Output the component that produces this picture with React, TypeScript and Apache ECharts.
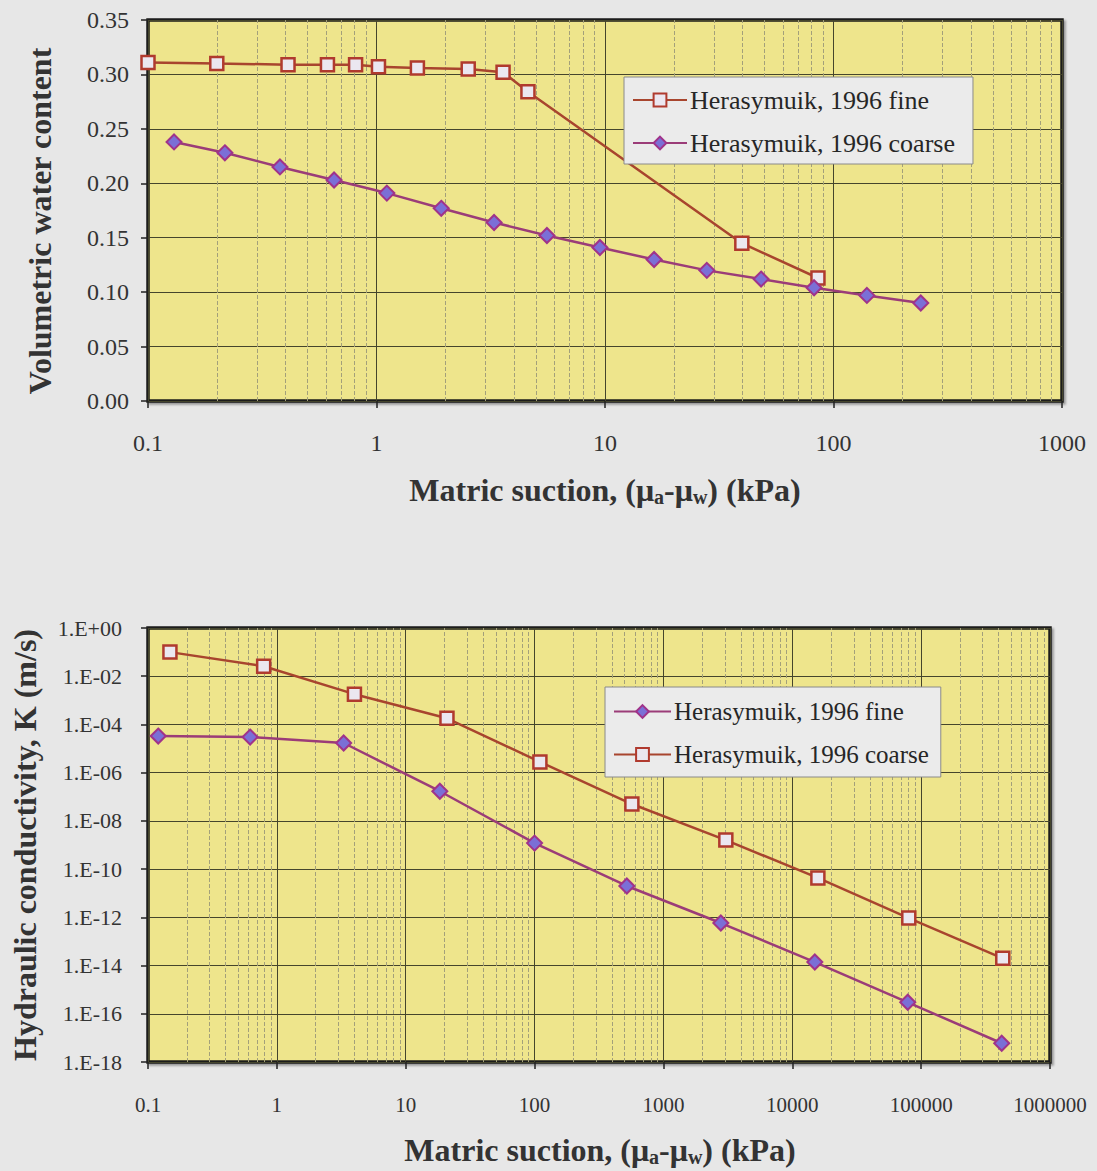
import React, { useEffect, useRef } from "react";
import * as echarts from "echarts";

// ---- Top chart: volumetric water content ----
const topFineSuction = [0.1, 0.2, 0.41, 0.61, 0.81, 1.02, 1.51, 2.52, 3.58, 4.6, 39.7, 85.5];
const topFineTheta = [0.311, 0.310, 0.309, 0.309, 0.309, 0.307, 0.306, 0.305, 0.302, 0.284, 0.145, 0.113];
const topCoarseSuction = [0.13, 0.217, 0.378, 0.652, 1.11, 1.92, 3.27, 5.57, 9.5, 16.4, 27.9, 48.2, 82.2, 140, 241];
const topCoarseTheta = [0.238, 0.228, 0.215, 0.203, 0.191, 0.177, 0.164, 0.152, 0.141, 0.130, 0.120, 0.112, 0.104, 0.097, 0.090];

// ---- Bottom chart: hydraulic conductivity ----
const botFineSuction = [0.12, 0.62, 3.3, 18.4, 100, 520, 2790, 14960, 78700, 422000];
const botFineK = [3.3e-5, 3.0e-5, 1.7e-5, 1.7e-7, 1.2e-9, 2e-11, 5.8e-13, 1.4e-14, 3e-16, 6e-18];
const botCoarseSuction = [0.148, 0.79, 4.0, 20.9, 110, 569, 3050, 15800, 80200, 430000];
const botCoarseK = [0.1, 0.026, 1.8e-3, 1.8e-4, 2.8e-6, 5e-8, 1.6e-9, 4.3e-11, 9.3e-13, 2e-14];

const legendTop = ["Herasymuik, 1996 fine", "Herasymuik, 1996 coarse"];
const legendBottom = ["Herasymuik, 1996 fine", "Herasymuik, 1996 coarse"];

const SERIF = "Liberation Serif";
const BG = "#e7e7e7";
const PLOT = "#eee58c";
const MAJOR = "#45452c";
const MINOR = "#a3a07a";
const FINE_LINE = "#a8452e";
const COARSE_LINE = "#9b3c78";

const zip = (xs: number[], ys: number[]) => xs.map((x, i) => [x, ys[i]]);

const decadeLabel = (v: number) => {
  const e = Math.round(Math.log10(v));
  return e < 0 ? "0." + "0".repeat(-e - 1) + "1" : "1" + "0".repeat(e);
};
const sciLabel = (v: number) => {
  const e = Math.round(Math.log10(v));
  return "1.E" + (e < 0 ? "-" : "+") + String(Math.abs(e)).padStart(2, "0");
};

const minorLines = (fromExp: number, toExp: number) => {
  const out: { xAxis: number }[] = [];
  for (let e = fromExp; e < toExp; e++) {
    for (let m = 2; m <= 9; m++) out.push({ xAxis: m * Math.pow(10, e) });
  }
  return out;
};

const fineStyle = {
  symbol: "rect",
  symbolSize: 13,
  lineStyle: { color: FINE_LINE, width: 2.5 },
  itemStyle: { color: "#ebe7f0", borderColor: "#b03a2e", borderWidth: 2.5 },
};
const coarseStyle = {
  symbol: "diamond",
  symbolSize: 15,
  lineStyle: { color: COARSE_LINE, width: 2.5 },
  itemStyle: { color: "#7b6fd6", borderColor: "#a0338a", borderWidth: 2 },
};

const xTitle = (x: number, y: number, fs: number) => ({
  type: "text",
  x,
  y,
  style: {
    text: "{t|Matric suction, (μ}{s|a}{t|-μ}{s|w}{t|) (kPa)}",
    textAlign: "center",
    textVerticalAlign: "middle",
    rich: {
      t: { fontFamily: SERIF, fontWeight: "bold", fontSize: fs, fill: "#333" },
      s: { fontFamily: SERIF, fontWeight: "bold", fontSize: Math.round(fs * 0.62), fill: "#333", padding: [14, 0, 0, 0] },
    },
  },
});

const yTitle = (text: string, x: number, y: number, fs: number) => ({
  type: "text",
  x,
  y,
  rotation: Math.PI / 2,
  style: {
    text,
    textAlign: "center",
    textVerticalAlign: "middle",
    fontFamily: SERIF,
    fontWeight: "bold",
    fontSize: fs,
    fill: "#333",
  },
});

const gridBase = {
  show: true,
  backgroundColor: PLOT,
  borderColor: "#1e1e1a",
  borderWidth: 3.5,
  shadowColor: "rgba(0,0,0,0.35)",
  shadowOffsetX: 2,
  shadowOffsetY: 2,
  shadowBlur: 2,
};

const legendBase = {
  orient: "vertical",
  backgroundColor: "#ebebeb",
  borderColor: "#8a8a8a",
  borderWidth: 1,
  borderRadius: 0,
  itemWidth: 54,
  itemHeight: 16,
  itemGap: 17,
  textStyle: { fontFamily: SERIF, fontSize: 26, color: "#262626", padding: [0, 0, 0, -2] },
};

export default function App() {
  const topRef = useRef<HTMLDivElement>(null);
  const botRef = useRef<HTMLDivElement>(null);

  useEffect(() => {
    const c1 = echarts.init(topRef.current!, undefined, { renderer: "svg" });
    const c2 = echarts.init(botRef.current!, undefined, { renderer: "svg" });

    c1.setOption({
      animation: false,
      backgroundColor: BG,
      grid: { ...gridBase, left: 148, top: 20, width: 914, height: 381 },
      legend: {
        ...legendBase,
        data: legendTop,
        left: 624,
        top: 77,
        padding: [10, 18, 8, 8],
      },
      xAxis: {
        type: "log",
        logBase: 10,
        min: 0.1,
        max: 1000,
        interval: 1,
        axisLine: { show: false },
        axisTick: { show: true, length: 7, lineStyle: { color: "#222", width: 1.5 } },
        axisLabel: { formatter: decadeLabel, fontFamily: SERIF, fontSize: 24, color: "#333", margin: 30 },
        splitLine: { show: true, lineStyle: { color: MAJOR, width: 1 } },
      },
      yAxis: {
        type: "value",
        min: 0,
        max: 0.35,
        interval: 0.05,
        axisLine: { show: false },
        axisTick: { show: true, length: 7, lineStyle: { color: "#222", width: 1.5 } },
        axisLabel: { formatter: (v: number) => v.toFixed(2), fontFamily: SERIF, fontSize: 24, color: "#333", margin: 19 },
        splitLine: { show: true, lineStyle: { color: MAJOR, width: 1 } },
      },
      series: [
        {
          name: legendTop[0],
          type: "line",
          data: zip(topFineSuction, topFineTheta),
          ...fineStyle,
          z: 3,
          markLine: {
            silent: true,
            symbol: ["none", "none"],
            label: { show: false },
            lineStyle: { color: MINOR, width: 1, type: "dashed" },
            data: minorLines(-1, 3),
            z: 1,
          },
        },
        {
          name: legendTop[1],
          type: "line",
          data: zip(topCoarseSuction, topCoarseTheta),
          ...coarseStyle,
          z: 4,
        },
      ],
      graphic: [
        yTitle("Volumetric water content", 40, 221, 32),
        xTitle(605, 490, 32),
      ],
    });

    c2.setOption({
      animation: false,
      backgroundColor: BG,
      grid: { ...gridBase, left: 148, top: 68, width: 902, height: 434 },
      legend: {
        ...legendBase,
        data: legendBottom,
        left: 605,
        top: 127,
        padding: [12, 12, 10, 8],
        itemWidth: 57,
        itemGap: 18,
        textStyle: { ...legendBase.textStyle, fontSize: 25 },
      },
      xAxis: {
        type: "log",
        logBase: 10,
        min: 0.1,
        max: 1000000,
        interval: 1,
        axisLine: { show: false },
        axisTick: { show: true, length: 7, lineStyle: { color: "#222", width: 1.5 } },
        axisLabel: { formatter: decadeLabel, fontFamily: SERIF, fontSize: 21, color: "#333", margin: 32 },
        splitLine: { show: true, lineStyle: { color: MAJOR, width: 1 } },
      },
      yAxis: {
        type: "log",
        logBase: 10,
        min: 1e-18,
        max: 1,
        interval: 2,
        axisLine: { show: false },
        axisTick: { show: true, length: 7, lineStyle: { color: "#222", width: 1.5 } },
        axisLabel: { formatter: sciLabel, fontFamily: SERIF, fontSize: 22, color: "#333", margin: 26 },
        splitLine: { show: true, lineStyle: { color: MAJOR, width: 1 } },
      },
      series: [
        {
          name: legendBottom[0],
          type: "line",
          data: zip(botFineSuction, botFineK),
          ...coarseStyle,
          z: 4,
          markLine: {
            silent: true,
            symbol: ["none", "none"],
            label: { show: false },
            lineStyle: { color: MINOR, width: 1, type: "dashed" },
            data: minorLines(-1, 6),
            z: 1,
          },
        },
        {
          name: legendBottom[1],
          type: "line",
          data: zip(botCoarseSuction, botCoarseK),
          ...fineStyle,
          z: 3,
        },
      ],
      graphic: [
        yTitle("Hydraulic conductivity, K (m/s)", 25, 285, 32),
        xTitle(600, 590, 32),
      ],
    });

    return () => {
      c1.dispose();
      c2.dispose();
    };
  }, []);

  return (
    <div style={{ position: "absolute", left: 0, top: 0, width: 1097, height: 1171, background: BG }}>
      <div ref={topRef} style={{ width: 1097, height: 560 }} />
      <div ref={botRef} style={{ width: 1097, height: 611 }} />
    </div>
  );
}
